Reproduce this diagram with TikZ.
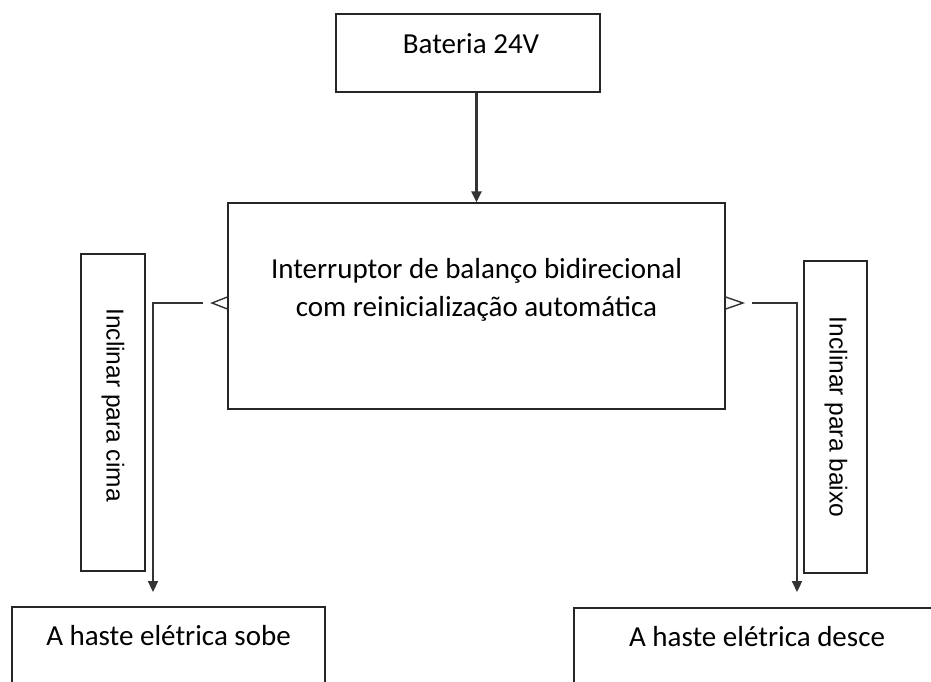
\documentclass[tikz,border=0pt]{standalone}
\usepackage{fontspec}
\setmainfont{Carlito}
\newfontfamily\labfont{Liberation Sans}
\usetikzlibrary{arrows.meta}
\begin{document}
\begin{tikzpicture}[x=1pt,y=-1pt,
  box/.style={draw=black!85,line width=1.2pt,inner sep=0pt},
  boxtext/.style={font=\fontsize{29}{38}\selectfont,align=center,inner sep=0pt},
  vtext/.style={font=\labfont\fontsize{24.5}{28}\selectfont,rotate=-90,inner sep=0pt},
  conn/.style={draw=black!80,line width=2.2pt},
  arr/.style={conn,-{Triangle[length=11pt,width=10pt]}},
  chev/.style={draw=black!80,line width=1.4pt,line join=miter}]
\useasboundingbox (0,0) rectangle (931,682);
\clip (0,0) rectangle (931,682);
% boxes
\node[box,minimum width=264pt,minimum height=78pt] (bat) at (468,53) {};
\node[boxtext] (battxt) at (471,44) {Bateria 24V};
\node[box,minimum width=497pt,minimum height=206pt] (sw) at (476.5,306) {};
\node[boxtext] (swtxt) at (476.5,290) {Interruptor de balanço bidirecional\\com reinicialização automática};
\node[box,minimum width=64pt,minimum height=317pt] (lup) at (113,412.5) {};
\node[vtext] (luptxt) at (113,405) {Inclinar para cima};
\node[box,minimum width=63pt,minimum height=312pt] (rdn) at (835.5,417) {};
\node[vtext] (rdntxt) at (836,417) {Inclinar para baixo};
\node[box,minimum width=313pt,minimum height=160pt] (bl) at (168.5,687) {};
\node[boxtext] (bltxt) at (168.5,636) {A haste elétrica sobe};
\node[box,minimum width=420pt,minimum height=160pt] (br) at (784,688) {};
\node[boxtext] (brtxt) at (757,637) {A haste elétrica desce};
% connectors
\draw[arr] (sw.north |- bat.south) -- (sw.north);
\draw[chev] (sw.west |- 0,297) -- (212,303) -- (sw.west |- 0,309);
\coordinate (ls) at (203,303);
\coordinate (le) at (153,592);
\draw[arr] (ls) -| (le);
\draw[chev] (sw.east |- 0,297) -- (743,303) -- (sw.east |- 0,309);
\coordinate (rs) at (752,303);
\coordinate (re) at (797,592);
\draw[arr] (rs) -| (re);
\end{tikzpicture}
\end{document}
